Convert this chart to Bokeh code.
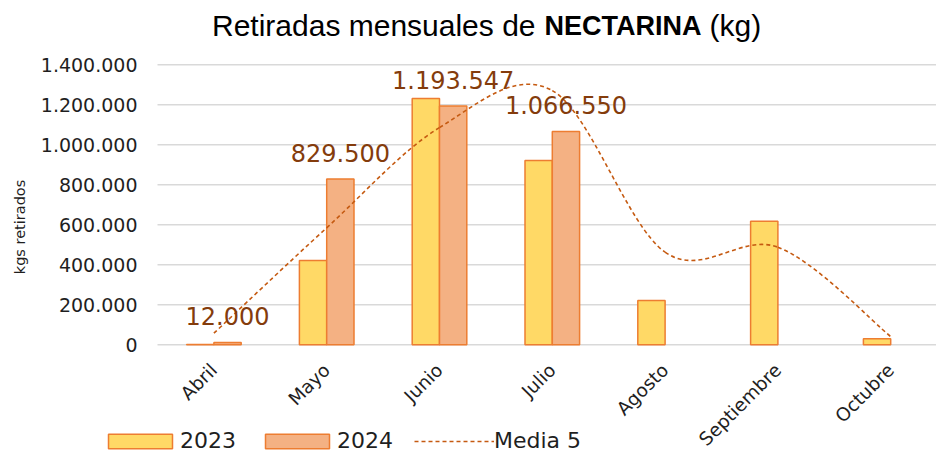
import math
import numpy as np
from bokeh.plotting import figure
from bokeh.models import (Range1d, FixedTicker, Label, LabelSet, ColumnDataSource,
                          Legend, LegendItem)
from bokeh.core.properties import value
from bokeh.embed import file_html
from bokeh.resources import INLINE

# ---------------- data ----------------
months = ["Abril", "Mayo", "Junio", "Julio", "Agosto", "Septiembre", "Octubre"]
values_2023 = [2000, 421000, 1232000, 921500, 221500, 618000, 30000]
values_2024 = [12000, 829500, 1193547, 1066550, None, None, None]
media_5 = [58000, 585000, 1086000, 1271000, 463000, 488000, 41000]
y_ticks = [0, 200000, 400000, 600000, 800000, 1000000, 1200000, 1400000]
title_parts = ["Retiradas mensuales de", "NECTARINA", "(kg)"]
series_names = ["2023", "2024", "Media 5"]

# ---------------- styles ----------------
C23 = "#FFD966"
C24 = "#F4B183"
EDGE = "#ED7D31"
MEDIA = "#C55A11"
LABEL = "#843C0C"
GRID = "#D9D9D9"
TXT = "#1F1F1F"
FONT = "DejaVu Sans"
TFONT = "Liberation Sans"

W, H = 936, 453
# plot-area geometry (pixels) and the data ranges that map onto it
AREA_L, AREA_TOP, AREA_BOT = 157.0, 64.3, 344.3
CAT_PX = 112.8
x_lo = -0.5 - AREA_L / CAT_PX
x_hi = x_lo + W / CAT_PX
units_per_px = (y_ticks[-1] - y_ticks[0]) / (AREA_BOT - AREA_TOP)
y_lo = y_ticks[0] - (H - AREA_BOT) * units_per_px
y_hi = y_lo + H * units_per_px


def fmt(v):
    return f"{int(v):,}".replace(",", ".")


n = len(months)
xs = np.arange(n, dtype=float)
off = 0.121
bw = 0.242
v24 = np.array([np.nan if v is None else v for v in values_2024], dtype=float)

p = figure(width=W, height=H, output_backend="svg", toolbar_location=None,
           x_range=Range1d(x_lo, x_hi), y_range=Range1d(y_lo, y_hi),
           min_border=0, min_border_left=0, min_border_right=0,
           min_border_top=0, min_border_bottom=0)
p.title.visible = False
p.outline_line_color = None
p.background_fill_color = "white"
p.border_fill_color = "white"

# horizontal grid lines over the plot area only
p.segment(x0=[-0.5] * len(y_ticks), x1=[x_hi] * len(y_ticks), y0=y_ticks,
          y1=y_ticks, line_color=GRID, line_width=1.5)

src = ColumnDataSource(dict(x23=xs - off, x24=xs + off,
                            v23=np.array(values_2023, dtype=float), v24=v24))
r23 = p.vbar(x="x23", top="v23", width=bw, fill_color=C23, line_color=EDGE,
             line_width=1.5, source=src)
r24 = p.vbar(x="x24", top="v24", width=bw, fill_color=C24, line_color=EDGE,
             line_width=1.5, source=src)

# smoothed "Media 5" line (Excel-like smoothing) drawn as bezier segments
my = np.array(media_5, dtype=float)
bx0, by0, bx1, by1, cx0, cy0, cx1, cy1 = ([] for _ in range(8))
for i in range(n - 1):
    ip = i - 1 if i > 0 else i
    inn = i + 2 if i + 2 < n else i + 1
    bx0.append(xs[i]); by0.append(my[i])
    bx1.append(xs[i + 1]); by1.append(my[i + 1])
    cx0.append(xs[i] + (xs[i + 1] - xs[ip]) / 6.0)
    cy0.append(my[i] + (my[i + 1] - my[ip]) / 6.0)
    cx1.append(xs[i + 1] - (xs[inn] - xs[i]) / 6.0)
    cy1.append(my[i + 1] - (my[inn] - my[i]) / 6.0)
bsrc = ColumnDataSource(dict(x0=bx0, y0=by0, x1=bx1, y1=by1,
                             cx0=cx0, cy0=cy0, cx1=cx1, cy1=cy1))
r_media = p.bezier(x0="x0", y0="y0", x1="x1", y1="y1", cx0="cx0", cy0="cy0",
                   cx1="cx1", cy1="cy1", line_color=MEDIA, line_width=1.6,
                   line_dash="4 3", source=bsrc)

# data labels for 2024
lx, ly, lt = [], [], []
for i, v in enumerate(values_2024):
    if v is not None:
        lx.append(xs[i] + off); ly.append(v); lt.append(fmt(v))
lsrc = ColumnDataSource(dict(x=lx, y=ly, t=lt))
p.add_layout(LabelSet(x="x", y="y", text="t", source=lsrc, text_align="center",
                      text_baseline="alphabetic", y_offset=17,
                      text_font=value(FONT), text_font_size="24px",
                      text_color=LABEL))

# axes, fixed at the plot-area edges
p.xgrid.visible = False
p.ygrid.visible = False

p.xaxis.fixed_location = 0
p.xaxis.ticker = FixedTicker(ticks=list(range(n)))
p.xaxis.major_label_overrides = {i: m for i, m in enumerate(months)}
p.xaxis.major_label_orientation = math.pi / 4
p.xaxis.major_label_text_font = FONT
p.xaxis.major_label_text_font_size = "18.5px"
p.xaxis.major_label_text_color = TXT
p.xaxis.major_tick_line_color = None
p.xaxis.minor_tick_line_color = None
p.xaxis.major_tick_out = 0
p.xaxis.major_tick_in = 0
p.xaxis.major_label_standoff = 22
p.xaxis.axis_line_color = None

p.yaxis.fixed_location = -0.5
p.yaxis.ticker = FixedTicker(ticks=y_ticks)
p.yaxis.major_label_overrides = {t: fmt(t) for t in y_ticks}
p.yaxis.major_label_text_font = FONT
p.yaxis.major_label_text_font_size = "19px"
p.yaxis.major_label_text_color = TXT
p.yaxis.major_tick_line_color = None
p.yaxis.minor_tick_line_color = None
p.yaxis.major_tick_out = 0
p.yaxis.major_tick_in = 0
p.yaxis.major_label_standoff = 20
p.yaxis.axis_line_color = None
p.yaxis.axis_label = "kgs retirados"
p.yaxis.axis_label_text_font = FONT
p.yaxis.axis_label_text_font_size = "14.5px"
p.yaxis.axis_label_text_font_style = "normal"
p.yaxis.axis_label_text_color = TXT
p.yaxis.axis_label_standoff = 10

# title (screen units from the bottom-left corner)
ty = H - 25
p.add_layout(Label(x=535, y=ty, x_units="screen", y_units="screen",
                   text=title_parts[0], text_align="right",
                   text_baseline="alphabetic", text_font=TFONT,
                   text_font_size="30px", text_color="black"))
p.add_layout(Label(x=544, y=ty, x_units="screen", y_units="screen",
                   text=title_parts[1], text_align="left",
                   text_baseline="alphabetic", text_font=TFONT,
                   text_font_size="27px", text_font_style="bold",
                   text_color="black"))
p.add_layout(Label(x=709, y=ty, x_units="screen", y_units="screen",
                   text=title_parts[2], text_align="left",
                   text_baseline="alphabetic", text_font=TFONT,
                   text_font_size="30px", text_color="black"))

legend = Legend(items=[LegendItem(label=series_names[0], renderers=[r23]),
                       LegendItem(label=series_names[1], renderers=[r24]),
                       LegendItem(label=series_names[2], renderers=[r_media])],
                location=(100, 0), orientation="horizontal",
                glyph_width=80, glyph_height=18, label_standoff=0, spacing=21,
                padding=0, margin=0, border_line_color=None,
                background_fill_alpha=0, label_text_font=FONT,
                label_text_font_size="22px", label_text_color=TXT)
p.add_layout(legend)

open("out.html", "w").write(file_html(p, INLINE))
